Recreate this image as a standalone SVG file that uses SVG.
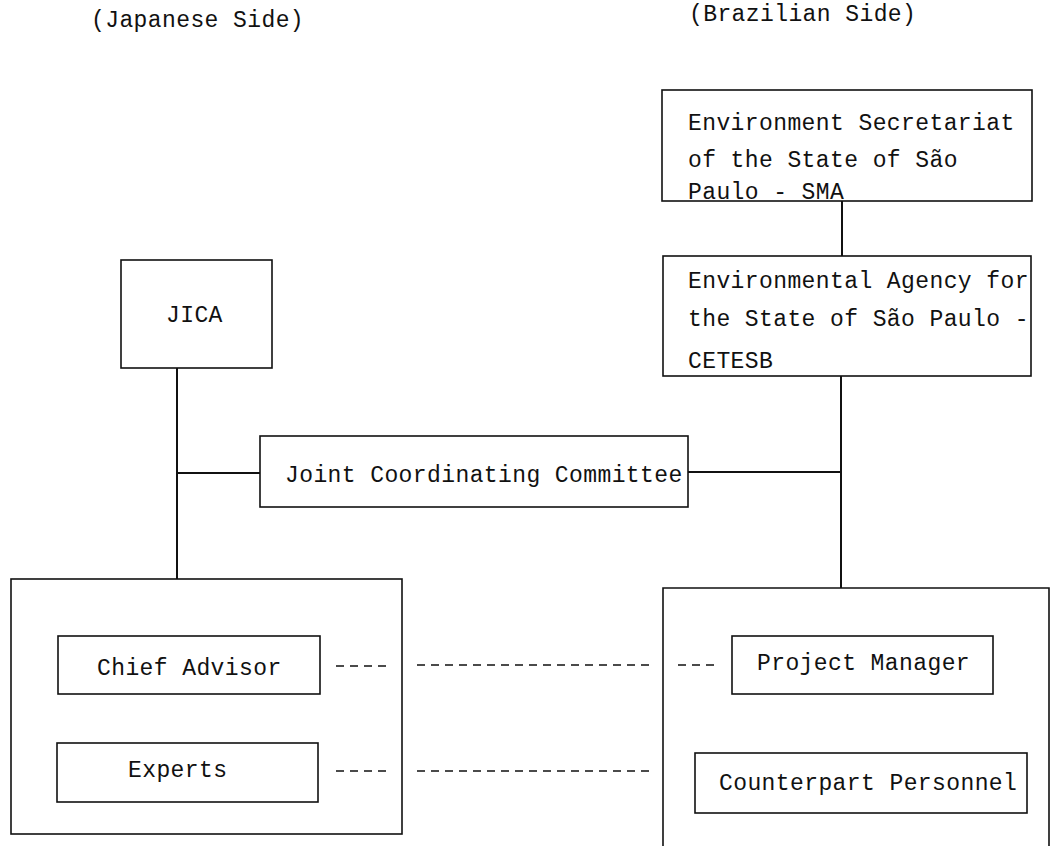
<svg xmlns="http://www.w3.org/2000/svg" width="1051" height="846" viewBox="0 0 1051 846">
<style>
  .box { fill: none; stroke: #111; stroke-width: 1.6; }
  .ln { fill: none; stroke: #111; stroke-width: 2; }
  .dash { fill: none; stroke: #111; stroke-width: 1.6; stroke-dasharray: 8 6; }
  .t { font-family: "Liberation Mono", "Courier New", monospace; font-size: 23px; letter-spacing: 0.4px; fill: #111; }
</style>
<rect width="1051" height="846" fill="#fff"/>
<text class="t" x="91" y="27">(Japanese Side)</text>
<text class="t" x="689" y="21">(Brazilian Side)</text>

<g id="connectors">
  <line class="ln" x1="842" y1="201" x2="842" y2="256"/>
  <line class="ln" x1="841" y1="376" x2="841" y2="588"/>
  <line class="ln" x1="177" y1="368" x2="177" y2="579"/>
  <line class="ln" x1="177" y1="473" x2="260" y2="473"/>
  <line class="ln" x1="688" y1="472" x2="841" y2="472"/>
  <line class="dash" x1="336" y1="666" x2="392" y2="666"/>
  <line class="dash" x1="417" y1="665" x2="655" y2="665"/>
  <line class="dash" x1="678" y1="665" x2="714" y2="665"/>
  <line class="dash" x1="336" y1="771" x2="392" y2="771"/>
  <line class="dash" x1="417" y1="771" x2="655" y2="771"/>
</g>

<g id="sma">
  <rect class="box" x="662" y="90" width="370" height="111"/>
  <text class="t" x="688" y="130">Environment Secretariat</text>
  <text class="t" x="688" y="167">of the State of São</text>
  <text class="t" x="688" y="199">Paulo - SMA</text>
</g>

<g id="cetesb">
  <rect class="box" x="663" y="256" width="368" height="120"/>
  <text class="t" x="688" y="288">Environmental Agency for</text>
  <text class="t" x="688" y="326">the State of São Paulo -</text>
  <text class="t" x="688" y="368">CETESB</text>
</g>

<g id="jica">
  <rect class="box" x="121" y="260" width="151" height="108"/>
  <text class="t" x="166" y="322">JICA</text>
</g>

<g id="committee">
  <rect class="box" x="260" y="436" width="428" height="71"/>
  <text class="t" x="285" y="482">Joint Coordinating Committee</text>
</g>

<g id="japanese-team">
  <rect class="box" x="11" y="579" width="391" height="255"/>
</g>

<g id="chief-advisor">
  <rect class="box" x="58" y="636" width="262" height="58"/>
  <text class="t" x="97" y="675">Chief Advisor</text>
</g>

<g id="experts">
  <rect class="box" x="57" y="743" width="261" height="59"/>
  <text class="t" x="128" y="777">Experts</text>
</g>

<g id="brazilian-team">
  <path class="box" d="M663 850 V588 H1049 V850"/>
</g>

<g id="project-manager">
  <rect class="box" x="732" y="636" width="261" height="58"/>
  <text class="t" x="757" y="670">Project Manager</text>
</g>

<g id="counterpart">
  <rect class="box" x="695" y="753" width="332" height="60"/>
  <text class="t" x="719" y="790">Counterpart Personnel</text>
</g>
</svg>
